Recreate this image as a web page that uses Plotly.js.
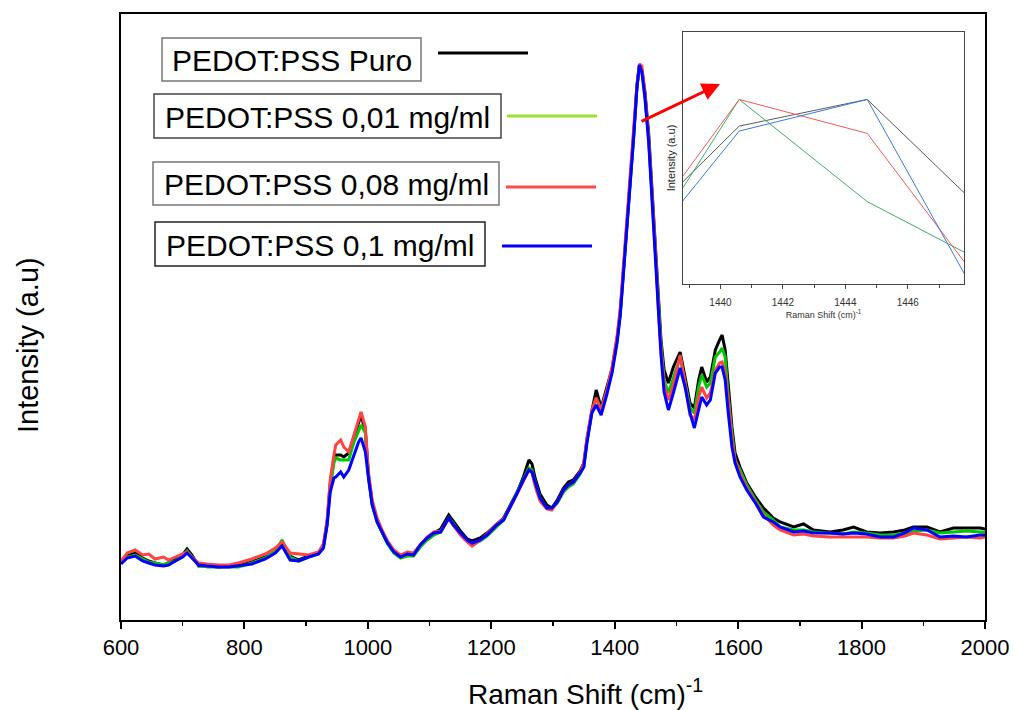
<!DOCTYPE html>
<html>
<head>
<meta charset="utf-8">
<script src="https://cdn.plot.ly/plotly-3.0.1.min.js"></script>
<style>html,body{margin:0;padding:0;background:#fff;}#chart{width:1014px;height:710px;}</style>
</head>
<body>
<div id="chart"></div>
<script>
// Raman shift (cm-1)
const ramanShift = [
  600, 610, 623, 635, 645, 655, 669, 677, 688, 700,
  707, 715, 726, 740, 758, 775, 790, 812, 834, 850,
  861, 874, 888, 904, 920, 928, 934, 939, 945, 948,
  956, 961, 969, 977, 985, 989, 996, 1001, 1007, 1015,
  1023, 1031, 1042, 1053, 1064, 1074, 1085, 1096, 1107, 1118,
  1131, 1139, 1150, 1161, 1169, 1182, 1193, 1209, 1220, 1231,
  1242, 1252, 1261, 1266, 1271, 1279, 1290, 1298, 1307, 1317,
  1325, 1333, 1344, 1350, 1355, 1363, 1370, 1378, 1387, 1396,
  1404, 1409, 1414, 1420, 1425, 1431, 1436, 1440, 1444, 1449,
  1455, 1460, 1466, 1471, 1475, 1480, 1487, 1495, 1506, 1514,
  1522, 1529, 1536, 1541, 1549, 1555, 1563, 1570, 1574, 1579,
  1584, 1590, 1595, 1603, 1614, 1628, 1641, 1657, 1668, 1690,
  1706, 1722, 1749, 1770, 1787, 1808, 1830, 1852, 1870, 1884,
  1906, 1927, 1949, 1970, 1992, 2000
];
const puro = [
  58, 64, 67, 62, 59, 57, 55, 57, 60, 65,
  71, 65, 54, 54, 53, 54, 54, 58, 63, 68,
  78, 64, 60, 64, 67, 74, 98, 136, 162, 165,
  165, 163, 167, 182, 197, 205, 188, 145, 117, 99,
  88, 78, 69, 64, 66, 66, 75, 82, 87, 91,
  105, 98, 89, 81, 79, 82, 87, 96, 102, 115,
  128, 143, 160, 156, 142, 126, 115, 112, 120, 132,
  138, 140, 149, 157, 180, 209, 230, 212, 232, 252,
  282, 308, 348, 395, 442, 488, 534, 554, 550, 528,
  487, 435, 375, 315, 280, 250, 237, 253, 268, 243,
  217, 212, 240, 253, 238, 243, 270, 280, 285, 270,
  233, 193, 167, 153, 137, 123, 112, 102, 98, 93,
  96, 90, 88, 90, 93, 88, 87, 88, 90, 93,
  93, 88, 92, 92, 92, 91
];
const c001 = [
  57, 63, 65, 61, 58, 57, 55, 57, 59, 64,
  69, 63, 55, 53, 53, 53, 53, 57, 62, 69,
  80, 63, 59, 63, 66, 73, 96, 132, 157, 162,
  160, 160, 160, 177, 188, 195, 187, 143, 115, 98,
  88, 77, 67, 62, 64, 64, 73, 80, 85, 88,
  102, 96, 86, 79, 75, 79, 84, 94, 100, 114,
  128, 142, 152, 150, 138, 122, 112, 111, 117, 128,
  133, 136, 146, 154, 179, 208, 222, 210, 228, 250,
  280, 306, 346, 393, 440, 486, 533, 555, 550, 524,
  482, 430, 370, 310, 275, 240, 227, 242, 263, 238,
  212, 207, 233, 245, 233, 237, 263, 268, 272, 263,
  223, 187, 160, 150, 135, 120, 108, 100, 93, 90,
  90, 88, 87, 86, 88, 87, 85, 85, 87, 89,
  90, 87, 88, 89, 88, 88
];
const c008 = [
  59, 67, 70, 65, 66, 61, 63, 60, 63, 66,
  68, 63, 57, 56, 55, 55, 57, 61, 66, 72,
  78, 67, 66, 65, 68, 76, 100, 140, 165, 175,
  180, 173, 168, 185, 202, 208, 193, 147, 120, 102,
  90, 80, 70, 65, 68, 67, 75, 83, 88, 89,
  101, 94, 85, 78, 74, 80, 86, 96, 101, 113,
  126, 139, 150, 147, 134, 119, 111, 110, 118, 130,
  135, 138, 148, 157, 182, 210, 222, 210, 229, 254,
  285, 312, 352, 398, 444, 490, 535, 556, 554, 526,
  482, 430, 370, 308, 270, 235, 220, 235, 265, 237,
  205, 200, 223, 233, 222, 227, 250, 257, 258, 247,
  220, 180, 160, 146, 132, 118, 105, 95, 90, 85,
  86, 84, 83, 83, 83, 83, 82, 82, 84, 87,
  85, 81, 82, 83, 82, 83
];
const c01 = [
  56, 62, 64, 59, 57, 55, 54, 55, 59, 63,
  67, 62, 55, 54, 53, 53, 54, 56, 61, 67,
  74, 60, 59, 63, 66, 72, 95, 128, 142, 143,
  148, 143, 150, 163, 178, 182, 168, 142, 115, 98,
  88, 78, 68, 63, 66, 65, 75, 82, 87, 88,
  102, 95, 87, 80, 77, 80, 85, 95, 100, 113,
  127, 140, 150, 148, 137, 122, 112, 112, 118, 130,
  135, 138, 147, 153, 177, 207, 215, 205, 225, 248,
  278, 305, 345, 392, 438, 485, 532, 555, 548, 522,
  478, 425, 365, 305, 265, 228, 210, 227, 252, 233,
  207, 192, 210, 223, 215, 220, 247, 253, 253, 240,
  207, 173, 157, 143, 130, 117, 103, 98, 93, 88,
  89, 87, 87, 86, 87, 86, 83, 83, 87, 92,
  90, 83, 84, 83, 85, 85
];

// Inset (zoom of main peak)
const insetShift = [1436.5, 1440.6, 1444.7, 1448.8];
const insetPuro = [47.1, 174.0, 200.7, 77.2];
const inset001 = [-0.7, 200.7, 98.3, 31.4];
const inset008 = [26.0, 200.7, 166.7, -3.1];
const inset01 = [10.2, 169.0, 200.7, -29.5];

const seriesNames = ["PEDOT:PSS Puro", "PEDOT:PSS 0,01 mg/ml", "PEDOT:PSS 0,08 mg/ml", "PEDOT:PSS 0,1 mg/ml"];
const xTicks = [600, 800, 1000, 1200, 1400, 1600, 1800, 2000];
const insetTicks = [1440, 1442, 1444, 1446];

const mainColors = ["#000000", "#00c800", "#ff4242", "#0000ff"];
const legendColors = ["#000000", "#99e033", "#ff4a4a", "#0000ff"];
const insetColors = ["#5a5a5a", "#3fae6a", "#f05a5a", "#3a7ae0"];
const boxColors = ["#777777", "#444444", "#777777", "#222222"];

const mainY = [puro, c001, c008, c01];
const insetY = [insetPuro, inset001, inset008, inset01];

const FONT = "Liberation Sans, Arial, sans-serif";

const traces = [];
mainY.forEach((ys, i) => {
  traces.push({x: ramanShift, y: ys, type: "scatter", mode: "lines", name: seriesNames[i],
    line: {color: mainColors[i], width: 3}, xaxis: "x", yaxis: "y", showlegend: false});
});
insetY.forEach((ys, i) => {
  traces.push({x: insetShift, y: ys, type: "scatter", mode: "lines", name: seriesNames[i],
    line: {color: insetColors[i], width: 1}, xaxis: "x2", yaxis: "y2", showlegend: false});
});

// pixel helpers (plot area: left 121, right 985, top 14, bottom 620)
const L = 121, R = 985, T = 14, B = 620;
const px = v => (v - L) / (R - L);
const py = v => (B - v) / (B - T);

const boxes = [
  {x0: 162, x1: 421, y0: 38, y1: 81, lx0: 438, lx1: 528, ly: 53},
  {x0: 154, x1: 501, y0: 94, y1: 138, lx0: 507, lx1: 597, ly: 116},
  {x0: 153, x1: 499, y0: 162, y1: 205, lx0: 506, lx1: 596, ly: 187},
  {x0: 155, x1: 485, y0: 222, y1: 266, lx0: 502, lx1: 592, ly: 246}
];
const shapes = [];
const annotations = [];
boxes.forEach((b, i) => {
  shapes.push({type: "rect", xref: "paper", yref: "paper", x0: px(b.x0), x1: px(b.x1), y0: py(b.y1), y1: py(b.y0),
    line: {color: boxColors[i], width: 1.5}, fillcolor: "rgba(0,0,0,0)"});
  shapes.push({type: "line", xref: "paper", yref: "paper", x0: px(b.lx0), x1: px(b.lx1), y0: py(b.ly), y1: py(b.ly),
    line: {color: legendColors[i], width: 3}});
  annotations.push({xref: "paper", yref: "paper", x: px((b.x0 + b.x1) / 2), y: py((b.y0 + b.y1) / 2 + 1),
    text: seriesNames[i], showarrow: false, xanchor: "center", yanchor: "middle",
    font: {family: FONT, size: 30, color: "#000"}});
});
// axis titles placed as annotations
annotations.push({xref: "paper", yref: "paper", x: px(585), y: py(692), xanchor: "center", yanchor: "middle",
  text: "Raman Shift (cm)<sup>-1</sup>", showarrow: false, font: {family: FONT, size: 28, color: "#000"}});
annotations.push({xref: "paper", yref: "paper", x: px(28), y: py(345), xanchor: "center", yanchor: "middle",
  text: "Intensity (a.u)", textangle: -90, showarrow: false, font: {family: FONT, size: 29, color: "#000"}});
// red arrow pointing to inset
annotations.push({xref: "paper", yref: "paper", x: px(720), y: py(84), ax: -80, ay: 38, text: "",
  showarrow: true, arrowhead: 2, arrowsize: 1.2, arrowwidth: 3, arrowcolor: "#ff0000"});

const layout = {
  width: 1014, height: 710,
  margin: {l: L, r: 1014 - R, t: T, b: 710 - B},
  paper_bgcolor: "#fff", plot_bgcolor: "#fff",
  font: {family: FONT, color: "#000"},
  xaxis: {
    domain: [0, 1], range: [600, 2000], tickvals: xTicks, ticktext: xTicks.map(String),
    ticks: "outside", ticklen: 7, tickwidth: 2, tickcolor: "#000",
    minor: {dtick: 100, tick0: 600, ticks: "outside", ticklen: 4, tickwidth: 1.5, tickcolor: "#000", showgrid: false},
    showline: true, linecolor: "#000", linewidth: 2, mirror: true,
    showgrid: false, zeroline: false,
    tickfont: {size: 22, family: FONT}
  },
  yaxis: {
    domain: [0, 1], range: [0, 606], showticklabels: false, ticks: "",
    showline: true, linecolor: "#000", linewidth: 2, mirror: true,
    showgrid: false, zeroline: false
  },
  xaxis2: {
    domain: [px(683), px(964)], anchor: "y2", range: [1438.8, 1447.8],
    tickvals: insetTicks, ticktext: insetTicks.map(String),
    ticks: "outside", ticklen: 4, tickwidth: 1, tickcolor: "#444",
    ticklabelstandoff: 5,
    minor: {dtick: 1, tick0: 1439, ticks: "outside", ticklen: 3, tickwidth: 1, tickcolor: "#444", showgrid: false},
    showline: true, linecolor: "#444", linewidth: 1, mirror: true,
    showgrid: false, zeroline: false,
    tickfont: {size: 10, color: "#333"},
    title: {text: "Raman Shift (cm)<sup>-1</sup>", font: {size: 9, color: "#333"}, standoff: 4}
  },
  yaxis2: {
    domain: [py(284), py(32)], anchor: "x2", range: [15.7, 268.3],
    showticklabels: false, ticks: "",
    showline: true, linecolor: "#444", linewidth: 1, mirror: true,
    showgrid: false, zeroline: false,
    title: {text: "Intensity (a.u)", font: {size: 11, color: "#222"}, standoff: 4}
  },
  shapes: shapes,
  annotations: annotations,
  showlegend: false
};

Plotly.newPlot("chart", traces, layout, {displayModeBar: false, staticPlot: true});
</script>
</body>
</html>
